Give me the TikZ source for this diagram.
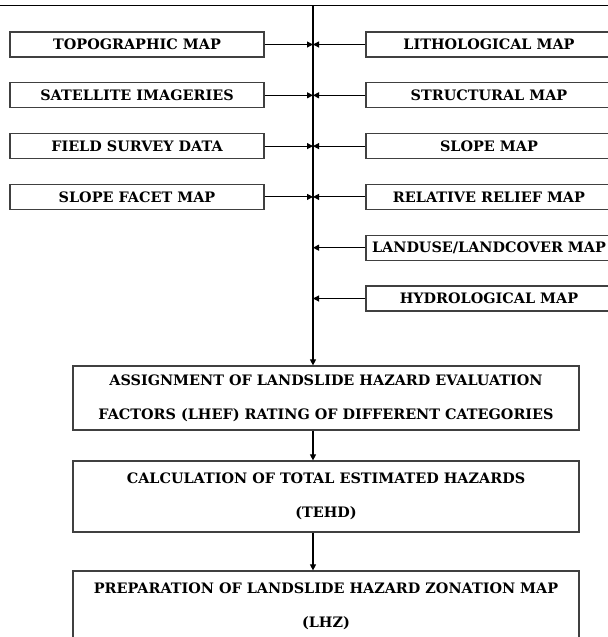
\documentclass[tikz,border=0pt]{standalone}
\usepackage{fontspec}
\setmainfont{DejaVu Serif}
\usetikzlibrary{arrows.meta}

\tikzset{
  mapbox/.style={draw=black!75, line width=0.9pt, minimum width=190.5pt, minimum height=18.75pt, inner sep=0pt, font=\fontsize{10.8}{12}\selectfont\bfseries},
  rmapbox/.style={mapbox, minimum width=184.5pt},
  stagebox/.style={draw=black!75, line width=0.9pt, minimum width=379.5pt, inner sep=0pt, align=center, font=\fontsize{10.8}{25.5}\selectfont\bfseries},
  flow/.style={line width=0.8pt, -{Triangle[length=4.5pt,width=4.5pt]}}
}

\begin{document}
\begin{tikzpicture}[x=0.75pt,y=-0.75pt]
  \useasboundingbox (0,0) rectangle (608,637);

  % top rule and trunk
  \draw[line width=0.8pt] (0,5.5) -- (608,5.5);
  \coordinate (trunk) at (313,5.5);

  % left inputs
  \node[mapbox] (topo) at (137,44.5) {TOPOGRAPHIC MAP};
  \node[mapbox] (sat) at (137,95.3) {SATELLITE IMAGERIES};
  \node[mapbox] (field) at (137,146.1) {FIELD SURVEY DATA};
  \node[mapbox] (facet) at (137,196.9) {SLOPE FACET MAP};

  % right inputs
  \node[rmapbox] (litho) at (489,44.5) {LITHOLOGICAL MAP};
  \node[rmapbox] (struct) at (489,95.3) {STRUCTURAL MAP};
  \node[rmapbox] (slope) at (489,146.1) {SLOPE MAP};
  \node[rmapbox] (relief) at (489,196.9) {RELATIVE RELIEF MAP};
  \node[rmapbox] (landuse) at (489,247.7) {LANDUSE/LANDCOVER MAP};
  \node[rmapbox] (hydro) at (489,298.5) {HYDROLOGICAL MAP};

  % stages
  \node[stagebox, minimum height=48pt] (lhef) at (326,398)
    {ASSIGNMENT OF LANDSLIDE HAZARD EVALUATION\\FACTORS (LHEF) RATING OF DIFFERENT CATEGORIES};
  \node[stagebox, minimum height=53.25pt] (tehd) at (326,496.5)
    {CALCULATION OF TOTAL ESTIMATED HAZARDS\\(TEHD)};
  \node[stagebox, minimum height=53.25pt] (lhz) at (326,606.5)
    {PREPARATION OF LANDSLIDE HAZARD ZONATION MAP\\(LHZ)};

  \draw[flow] (trunk) -- (trunk |- lhef.north);

  \draw[flow] (topo.east) -- (topo.east -| trunk);
  \draw[flow] (sat.east) -- (sat.east -| trunk);
  \draw[flow] (field.east) -- (field.east -| trunk);
  \draw[flow] (facet.east) -- (facet.east -| trunk);

  \draw[flow] (litho.west) -- (litho.west -| trunk);
  \draw[flow] (struct.west) -- (struct.west -| trunk);
  \draw[flow] (slope.west) -- (slope.west -| trunk);
  \draw[flow] (relief.west) -- (relief.west -| trunk);
  \draw[flow] (landuse.west) -- (landuse.west -| trunk);
  \draw[flow] (hydro.west) -- (hydro.west -| trunk);

  \draw[flow] (lhef.south -| trunk) -- (tehd.north -| trunk);
  \draw[flow] (tehd.south -| trunk) -- (lhz.north -| trunk);
\end{tikzpicture}
\end{document}
